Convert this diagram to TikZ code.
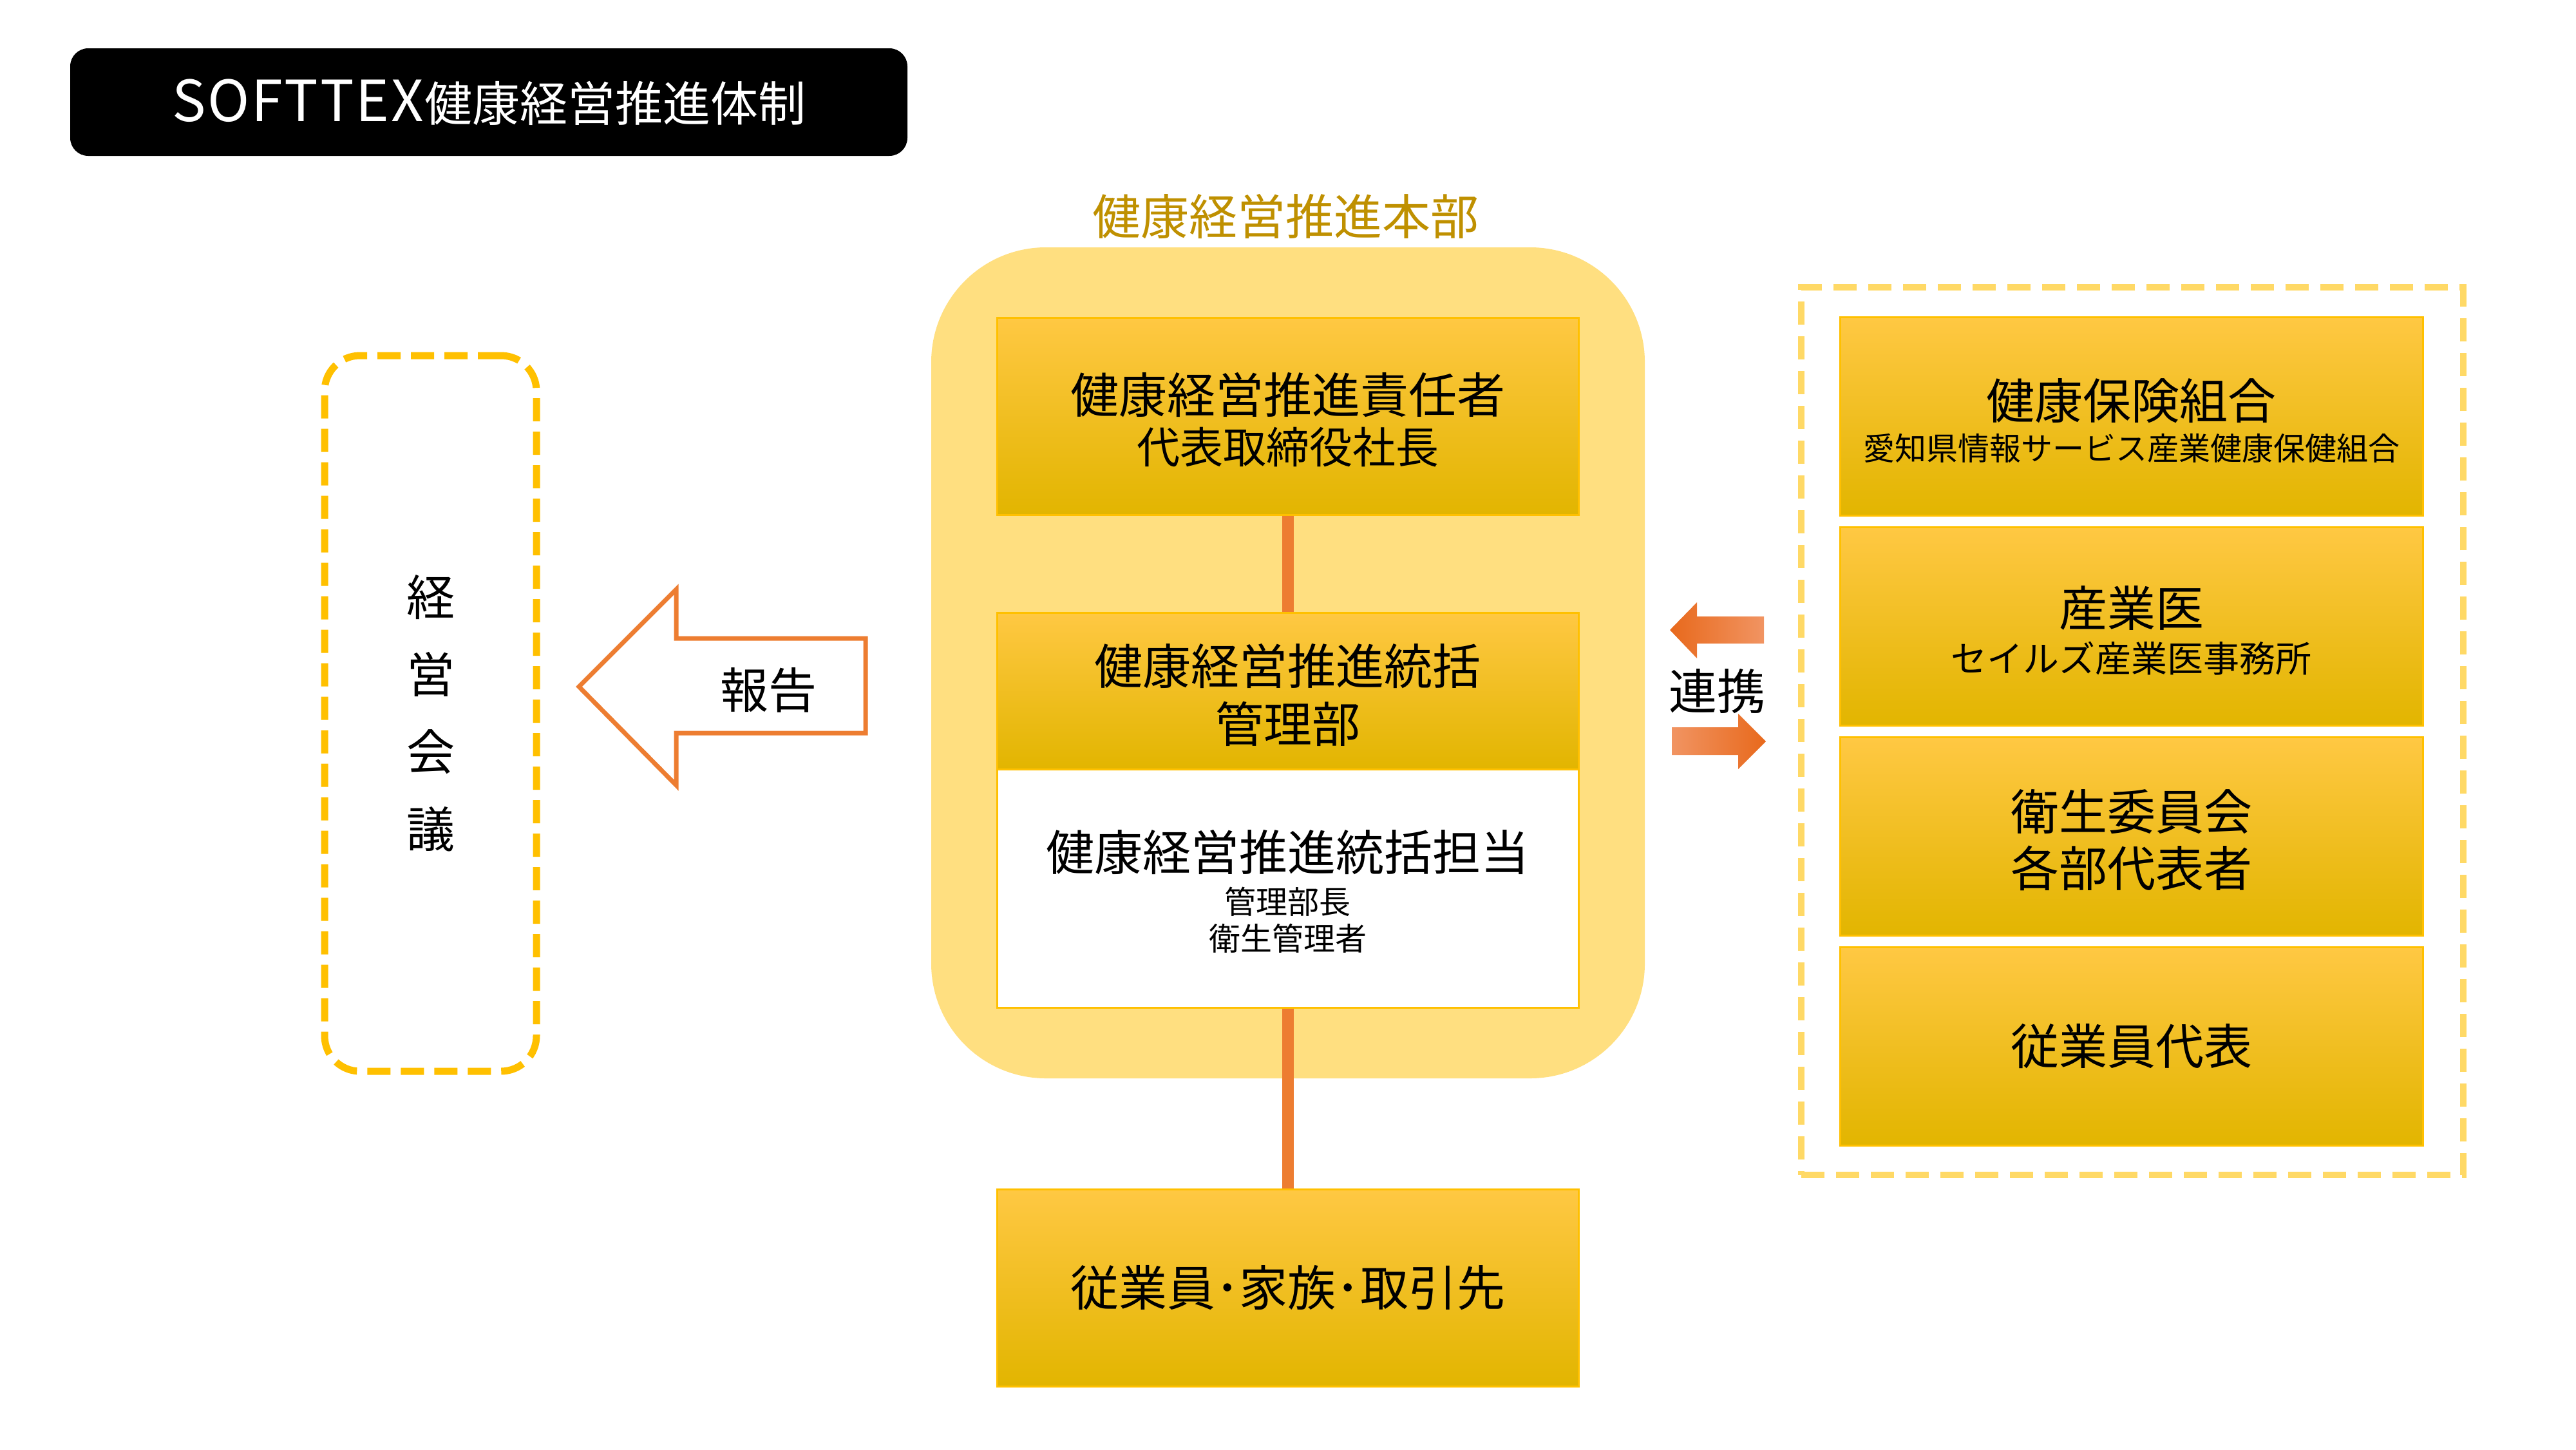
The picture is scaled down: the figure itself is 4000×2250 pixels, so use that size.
\documentclass[tikz,border=0pt]{standalone}
\usepackage{fontspec}
\setmainfont{Noto Sans CJK JP}
\definecolor{gold}{HTML}{FFC000}
\definecolor{goldtop}{HTML}{FFC843}
\definecolor{goldbot}{HTML}{E2B500}
\definecolor{hqfill}{HTML}{FFDF80}
\definecolor{dashlight}{HTML}{FFD966}
\definecolor{orng}{HTML}{ED7D31}
\definecolor{arrdark}{HTML}{E8691C}
\definecolor{arrlight}{HTML}{F19462}
\definecolor{darkgold}{HTML}{BF9000}
\begin{document}
\begin{tikzpicture}[x=0.25pt,y=-0.25pt,
  big/.style={font=\fontsize{18.75pt}{22pt}\selectfont},
  small/.style={font=\fontsize{12.25pt}{15pt}\selectfont},
  mid/.style={font=\fontsize{14pt}{17pt}\selectfont},
  goldbox/.style={draw=gold, line width=0.75pt, top color=goldtop, middle color=gold, bottom color=goldbot, inner sep=0pt, big},
  lbox/.style={goldbox, minimum width=225.75pt, minimum height=#1},
  rbox/.style={goldbox, minimum width=226.25pt, minimum height=77pt},
  txt/.style={inner sep=0pt, big},
  conn/.style={draw=orng, line width=4.5pt},
]
\useasboundingbox (0,0) rectangle (4000,2250);
\fill[white] (0,0) rectangle (4000,2250);

% title
\node[fill=black, rounded corners=7pt, minimum width=325pt, minimum height=41.75pt, text=white,
      font=\fontsize{18.5pt}{22pt}\selectfont, inner sep=0pt] (title) at (759,158.5)
  {{\fontsize{22pt}{24pt}\selectfont S\kern0.7pt O\kern0.7pt F\kern0.7pt T\kern0.7pt T\kern0.7pt E\kern0.7pt X}\kern0.3pt 健康経営推進体制};

% management meeting
\node[draw=gold, line width=2.75pt, dash pattern=on 9pt off 4pt, rounded corners=13.75pt,
      minimum width=82.25pt, minimum height=277.75pt, align=center,
      font=\fontsize{18.75pt}{30pt}\selectfont] (kaigi) at (668.5,1107.5) {経\\営\\会\\議};

% report arrow
\draw[orng, line width=1.75pt, fill=white, line join=miter]
  (899,1066) -- (1050,915) -- (1050,991) -- (1344,991) -- (1344,1138) -- (1050,1138) -- (1050,1219) -- cycle;
\node[txt] (report) at (1193,1071) {報告};

% headquarters
\node[fill=hqfill, rounded corners=44.5pt, minimum width=277pt, minimum height=322.5pt] (hq) at (2000,1029) {};
\node[txt, text=darkgold] (hqlabel) at (1996,336) {健康経営推進本部};

\node[lbox=76.5pt] (b1) at (1999.5,646) {};
\node[txt] (b1a) at (1999.5,613) {健康経営推進責任者};
\node[txt, font=\fontsize{16.75pt}{20pt}\selectfont] (b1b) at (1999.5,694) {代表取締役社長};

\node[draw=gold, line width=0.75pt, fill=white, minimum width=225.75pt, minimum height=92.5pt] (b2w) at (1999.5,1379) {};
\node[lbox=60.75pt] (b2h) at (1999.5,1072.5) {};
\node[txt] (b2a) at (1999.5,1034) {健康経営推進統括};
\node[txt] (b2b) at (1999.5,1124) {管理部};
\node[txt] (b2c) at (1999.5,1323) {健康経営推進統括担当};
\node[txt, small] (b2d) at (1999.5,1400) {管理部長};
\node[txt, small] (b2e) at (1999.5,1457) {衛生管理者};

\node[lbox=76.5pt] (bb) at (1999.5,1999) {従業員･家族･取引先};

\draw[conn] (b1.south) -- (b2h.north);
\draw[conn] (b2w.south) -- (bb.north);

% cooperation arrows
\shade[left color=arrdark, right color=arrlight]
  (2593,978) -- (2635,935) -- (2635,957) -- (2739,957) -- (2739,999) -- (2635,999) -- (2635,1022) -- cycle;
\shade[left color=arrlight, right color=arrdark]
  (2596,1129) -- (2699,1129) -- (2699,1108) -- (2742,1151) -- (2699,1194) -- (2699,1172) -- (2596,1172) -- cycle;
\node[txt] (renkei) at (2666,1073) {連携};

% partners
\node[draw=dashlight, line width=2.5pt, dash pattern=on 9pt off 4.5pt,
      minimum width=257pt, minimum height=344.5pt] (partners) at (3311,1135) {};
\node[rbox] (ra) at (3309.5,646) {};
\node[txt] (raa) at (3309.5,622) {健康保険組合};
\node[txt, small] (rab) at (3309.5,696) {愛知県情報サービス産業健康保健組合};
\node[rbox] (rb) at (3309.5,972) {};
\node[txt] (rba) at (3309.5,944) {産業医};
\node[txt, mid] (rbb) at (3309.5,1022) {セイルズ産業医事務所};
\node[rbox] (rc) at (3309.5,1298.5) {};
\node[txt] (rca) at (3309.5,1260) {衛生委員会};
\node[txt] (rcb) at (3309.5,1348) {各部代表者};
\node[rbox] (rd) at (3309.5,1624) {従業員代表};
\end{tikzpicture}
\end{document}
